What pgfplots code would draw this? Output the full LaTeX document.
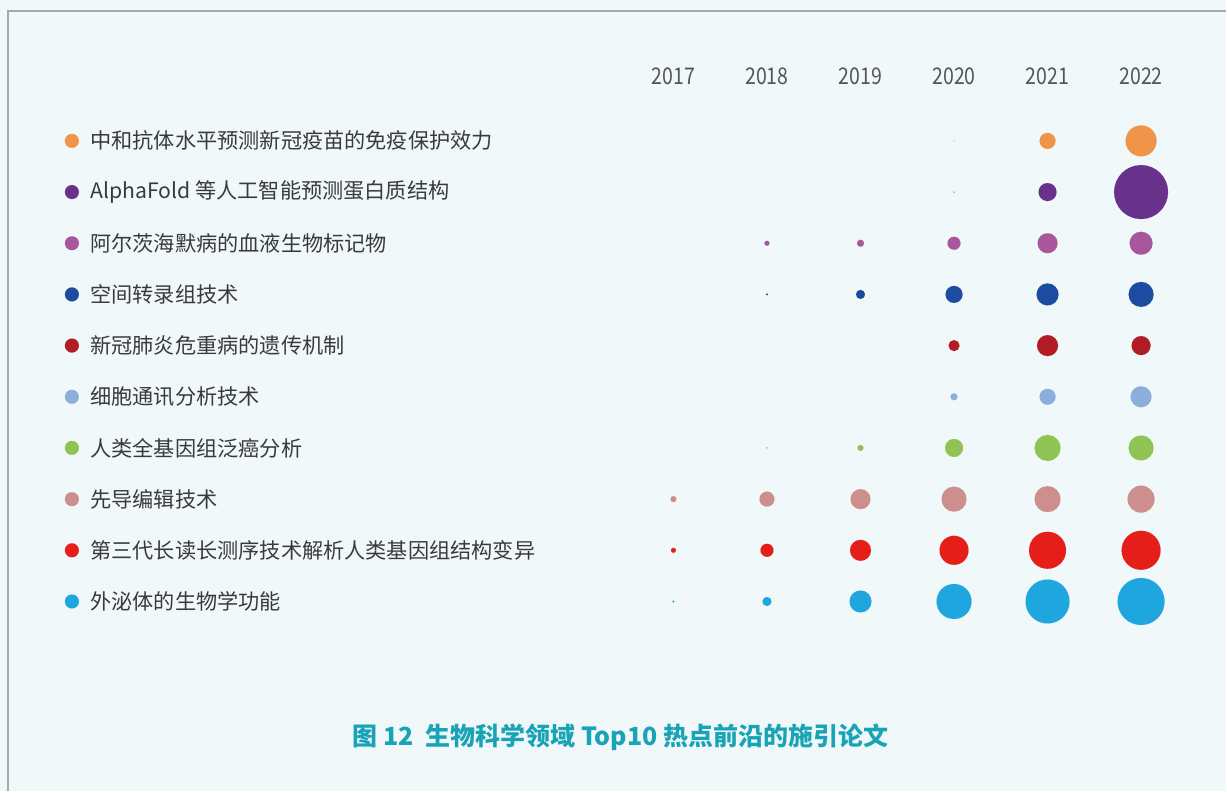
\documentclass[border=0pt]{standalone}
\usepackage{fontspec}
\setmainfont{Noto Sans CJK SC}
\newfontfamily\yearfont[FakeStretch=0.85]{Noto Sans CJK SC}
\usepackage{pgfplots}
\pgfplotsset{compat=1.18}

\definecolor{bgcol}{HTML}{F1F8FA}
\definecolor{framecol}{HTML}{A7A9AB}
\definecolor{labcol}{HTML}{3A3A3A}
\definecolor{yearcol}{HTML}{555555}
\definecolor{titlecol}{HTML}{18A4B6}
\definecolor{cOrange}{HTML}{F0944A}
\definecolor{cPurple}{HTML}{68318B}
\definecolor{cMagenta}{HTML}{A9579C}
\definecolor{cBlue}{HTML}{1C4C9F}
\definecolor{cDarkred}{HTML}{B21D25}
\definecolor{cLightblue}{HTML}{8DAEDB}
\definecolor{cGreen}{HTML}{8FC454}
\definecolor{cPink}{HTML}{CC8F8E}
\definecolor{cRed}{HTML}{E61E1A}
\definecolor{cCyan}{HTML}{1FA6DF}

% d = bubble diameter in pixels of the reference (1px = 0.5pt)
\pgfplotsset{
  bub/.style={
    only marks, mark=*, scatter,
    mark options={line width=0.01pt},
    scatter/use mapped color={draw=#1, fill=#1},
    visualization depends on={\thisrow{d}/4 \as \msize},
    scatter/@pre marker code/.append style={/tikz/mark size=\msize}
  }
}
\tikzset{lab/.style={anchor=west, inner sep=0pt, text=labcol, font=\fontsize{10.6}{12}\selectfont}}

\begin{document}
\begin{tikzpicture}
\begin{axis}[
  scale only axis,
  width=613.5pt, height=396pt,
  xmin=2009.7991, xmax=2022.9081,
  ymin=-1.7528, ymax=13.710,
  y dir=reverse,
  hide axis,
  axis background/.style={fill=bgcol},
  clip=false
]
% frame
\draw[framecol, line width=1pt] (axis cs:2009.885,13.710) -- (axis cs:2009.885,-1.539) -- (axis cs:2022.9081,-1.539);

% year labels
\pgfplotsinvokeforeach{2017,...,2022}{
  \node[text=yearcol, font=\yearfont\fontsize{11.5}{13}\selectfont] at (axis cs:#1,-0.269) {#1};
}

% row labels
\node[lab] at (axis cs:2010.761,1) {中和抗体水平预测新冠疫苗的免疫保护效力};
\node[lab] at (axis cs:2010.761,2) {AlphaFold 等人工智能预测蛋白质结构};
\node[lab] at (axis cs:2010.761,3) {阿尔茨海默病的血液生物标记物};
\node[lab] at (axis cs:2010.761,4) {空间转录组技术};
\node[lab] at (axis cs:2010.761,5) {新冠肺炎危重病的遗传机制};
\node[lab] at (axis cs:2010.761,6) {细胞通讯分析技术};
\node[lab] at (axis cs:2010.761,7) {人类全基因组泛癌分析};
\node[lab] at (axis cs:2010.761,8) {先导编辑技术};
\node[lab] at (axis cs:2010.761,9) {第三代长读长测序技术解析人类基因组结构变异};
\node[lab] at (axis cs:2010.761,10) {外泌体的生物学功能};

% title
\node[text=titlecol, font=\bfseries\fontsize{12.5}{14}\selectfont] at (axis cs:2016.434,12.656) {图 12\ \ 生物科学领域 Top10 热点前沿的施引论文};

% bubbles (first point of each row is the label dot)
\addplot[bub=cOrange] table[row sep=\\]{x y d\\ 2010.568 1 14\\ 2020 1 1\\ 2021 1 16\\ 2022 1 31\\};
\addplot[bub=cPurple] table[row sep=\\]{x y d\\ 2010.568 2 14\\ 2020 2 1\\ 2021 2 18\\ 2022 2 54\\};
\addplot[bub=cMagenta] table[row sep=\\]{x y d\\ 2010.568 3 14\\ 2018 3 5\\ 2019 3 7\\ 2020 3 13\\ 2021 3 20\\ 2022 3 23\\};
\addplot[bub=cBlue] table[row sep=\\]{x y d\\ 2010.568 4 14\\ 2018 4 2\\ 2019 4 9\\ 2020 4 17\\ 2021 4 22\\ 2022 4 25\\};
\addplot[bub=cDarkred] table[row sep=\\]{x y d\\ 2010.568 5 14\\ 2020 5 11\\ 2021 5 21\\ 2022 5 19\\};
\addplot[bub=cLightblue] table[row sep=\\]{x y d\\ 2010.568 6 14\\ 2020 6 7\\ 2021 6 16\\ 2022 6 21\\};
\addplot[bub=cGreen] table[row sep=\\]{x y d\\ 2010.568 7 14\\ 2018 7 1.5\\ 2019 7 6\\ 2020 7 18\\ 2021 7 26\\ 2022 7 25\\};
\addplot[bub=cPink] table[row sep=\\]{x y d\\ 2010.568 8 14\\ 2017 8 6\\ 2018 8 15\\ 2019 8 20\\ 2020 8 25\\ 2021 8 26\\ 2022 8 27\\};
\addplot[bub=cRed] table[row sep=\\]{x y d\\ 2010.568 9 14\\ 2017 9 5\\ 2018 9 13\\ 2019 9 21\\ 2020 9 29\\ 2021 9 37\\ 2022 9 39\\};
\addplot[bub=cCyan] table[row sep=\\]{x y d\\ 2010.568 10 14\\ 2017 10 2\\ 2018 10 9\\ 2019 10 22\\ 2020 10 35\\ 2021 10 44\\ 2022 10 47\\};
\end{axis}
\end{tikzpicture}
\end{document}
